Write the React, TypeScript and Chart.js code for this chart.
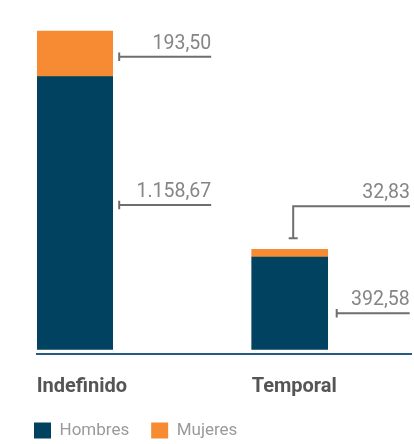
import { useEffect, useRef } from 'react';
import { Chart, registerables } from 'chart.js';

Chart.register(...registerables);

const categories = ['Indefinido', 'Temporal'];
const seriesNames = ['Hombres', 'Mujeres'];
const hombres = [1158.67, 392.58];
const mujeres = [193.5, 32.83];

const COLORS = ['#004260', '#f68b33'];
const AXIS_COLOR = '#245d80';
const LEADER_COLOR = '#6e6e6e';
const VALUE_COLOR = '#858585';
const BAR = 76;

type Leader = {
  ds: number;
  i: number;
  kind: 'side' | 'top';
  dy?: number;
  gapX?: number;
  len?: number;
  gap?: number;
  rise?: number;
};

const leaders: Leader[] = [
  { ds: 1, i: 0, kind: 'side', dy: 3, gapX: 6.5, len: 92 },
  { ds: 0, i: 0, kind: 'side', dy: -8, gapX: 6.5, len: 92 },
  { ds: 1, i: 1, kind: 'top', gap: 11, rise: 32 },
  { ds: 0, i: 1, kind: 'side', dy: 10, gapX: 9, len: 73 },
];

function fmt(v: number): string {
  const [int, dec] = v.toFixed(2).split('.');
  return int.replace(/\B(?=(\d{3})+(?!\d))/g, '.') + ',' + dec;
}

const leaderPlugin = {
  id: 'leaders',
  afterDatasetsDraw(chart: any) {
    const ctx = chart.ctx as CanvasRenderingContext2D;
    const area = chart.chartArea;
    ctx.save();
    ctx.strokeStyle = LEADER_COLOR;
    ctx.lineWidth = 2;
    ctx.fillStyle = VALUE_COLOR;
    ctx.font = '400 19.5px Roboto, sans-serif';
    ctx.textAlign = 'right';
    ctx.textBaseline = 'alphabetic';
    leaders.forEach((l) => {
      const el: any = chart.getDatasetMeta(l.ds).data[l.i];
      const value = chart.data.datasets[l.ds].data[l.i].y as number;
      const label = fmt(value);
      if (l.kind === 'side') {
        const tx = el.x + el.width / 2 + (l.gapX || 7);
        const ly = (el.y + el.base) / 2 + (l.dy || 0);
        const ex = tx + (l.len || 80);
        ctx.beginPath();
        ctx.moveTo(tx, ly - 4.2);
        ctx.lineTo(tx, ly + 4.2);
        ctx.moveTo(tx, ly);
        ctx.lineTo(ex, ly);
        ctx.stroke();
        ctx.fillText(label, ex, ly - 8);
      } else {
        const vx = el.x + 3.5;
        const by = el.y - (l.gap || 8);
        const ty = by - (l.rise || 30);
        const ex = area.right - 1;
        ctx.beginPath();
        ctx.moveTo(vx - 4.5, by);
        ctx.lineTo(vx + 4.5, by);
        ctx.moveTo(vx, by);
        ctx.lineTo(vx, ty);
        ctx.lineTo(ex, ty);
        ctx.stroke();
        ctx.fillText(label, ex, ty - 8);
      }
    });
    ctx.restore();
  },
};

export default function App() {
  const ref = useRef<HTMLCanvasElement | null>(null);

  useEffect(() => {
    if (!ref.current) return;
    Chart.defaults.font.family = 'Roboto, sans-serif';
    const chart = new Chart(ref.current, {
      type: 'bar',
      data: {
        datasets: [
          {
            label: seriesNames[0],
            data: hombres.map((y, i) => ({ x: i, y })),
            backgroundColor: COLORS[0],
            borderWidth: 0,
            barThickness: BAR,
          },
          {
            label: seriesNames[1],
            data: mujeres.map((y, i) => ({ x: i, y })),
            backgroundColor: COLORS[1],
            borderWidth: 0,
            barThickness: BAR,
          },
        ],
      },
      options: {
        animation: false,
        responsive: true,
        maintainAspectRatio: false,
        layout: { padding: { top: 19.7, left: 12, right: 3, bottom: 0 } },
        scales: {
          x: {
            type: 'linear',
            stacked: true,
            offset: false,
            min: -0.1753,
            max: 1.5642,
            grid: { display: false },
            border: { display: true, color: AXIS_COLOR, width: 2 },
            afterBuildTicks: (s: any) => {
              s.ticks = categories.map((_, i) => ({ value: i }));
            },
            afterFit: (s: any) => {
              s.height = 46.5;
            },
            ticks: {
              callback: (v: any) => categories[v as number],
              align: 'start',
              labelOffset: -BAR / 2,
              padding: 13,
              maxRotation: 0,
              autoSkip: false,
              color: '#555555',
              font: { size: 20, weight: 'bold' },
            },
          },
          y: {
            stacked: true,
            min: -17,
            max: 1400,
            grid: { display: false },
            border: { display: false },
            ticks: { display: false },
            afterFit: (s: any) => {
              s.width = 25;
            },
          },
        },
        plugins: {
          legend: {
            position: 'bottom',
            align: 'start',
            maxHeight: 44,
            labels: {
              boxWidth: 17,
              boxHeight: 16,
              padding: 22,
              color: '#9a9a9a',
              font: { size: 17 },
            },
          },
          tooltip: { enabled: false },
        },
      } as any,
      plugins: [leaderPlugin],
    });
    return () => chart.destroy();
  }, []);

  return (
    <div style={{ position: 'absolute', left: 0, top: 0, width: 414, height: 444 }}>
      <canvas ref={ref} />
    </div>
  );
}
